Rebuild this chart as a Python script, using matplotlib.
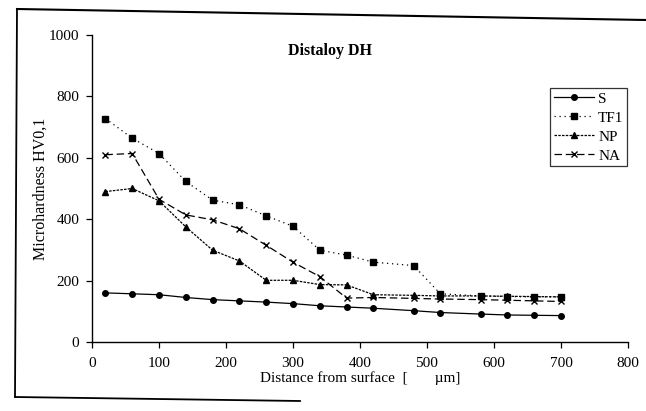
import matplotlib
matplotlib.use("Agg")
import matplotlib.pyplot as plt
from matplotlib.lines import Line2D

plt.rcParams['font.family'] = ['Liberation Serif', 'DejaVu Serif']

distance = [20, 60, 100, 140, 180, 220, 260, 300, 340, 380, 420, 480, 520, 580, 620, 660, 700]
S = [160, 157, 154, 145, 138, 134, 130, 125, 118, 114, 110, 102, 96, 91, 88, 87, 86]
TF1 = [728, 664, 614, 523, 462, 447, 411, 377, 299, 283, 260, 249, 157, 150, 148, 147, 147]
NP = [490, 500, 460, 375, 299, 264, 201, 201, 187, 186, 154, 152, 150, 150, 149, 148, 147]
NA = [610, 614, 465, 414, 398, 369, 315, 260, 213, 143, 145, 142, 140, 138, 136, 134, 132]

x_ticks = [0, 100, 200, 300, 400, 500, 600, 700, 800]
y_ticks = [0, 200, 400, 600, 800, 1000]

W, H = 646, 411
fig = plt.figure(figsize=(W / 100, H / 100), dpi=100)
ax = fig.add_axes([92 / W, 1 - 342 / H, (628 - 92) / W, (342 - 35) / H])

lw = 0.9
ax.plot(distance, S, color='black', lw=lw, ls='-', marker='o', ms=4, label='S')
ax.plot(distance, TF1, color='black', lw=lw, ls=(0, (1, 3)), marker='s', ms=5, label='TF1')
ax.plot(distance, NP, color='black', lw=lw, ls=(0, (2, 1)), marker='^', ms=5, label='NP')
ax.plot(distance, NA, color='black', lw=lw, ls=(0, (6, 3)), marker='x', ms=5, mew=1, label='NA')

ax.set_xlim(0, 800)
ax.set_ylim(0, 1000)
ax.set_xticks(x_ticks)
ax.set_yticks(y_ticks)
ax.spines['top'].set_visible(False)
ax.spines['right'].set_visible(False)
ax.tick_params(direction='out', length=4, width=0.9, labelsize=11, colors='black')
ax.tick_params(axis='x', pad=7)
ax.tick_params(axis='y', pad=5)
for s in ('left', 'bottom'):
    ax.spines[s].set_linewidth(1.0)

ax.set_xlabel('Distance from surface  [       \u00b5m]', fontsize=11, labelpad=1)
ax.set_ylabel('Microhardness HV0,1', fontsize=11.5, labelpad=0)
ax.text(330 / W, 1 - 51 / H, 'Distaloy DH', transform=fig.transFigure, ha='center', va='center',
        fontsize=11.5, fontweight='bold')

leg = ax.legend(loc='upper left', bbox_to_anchor=((550 - 92) / (628 - 92), (342 - 88) / (342 - 35)),
                frameon=True, fancybox=False, edgecolor='black', fontsize=11,
                handlelength=2.6, handletextpad=0.3, borderpad=0.25, labelspacing=0.35,
                borderaxespad=0)
leg.get_frame().set_linewidth(0.9)

# outer chart-area border (scanned frame)
fig.add_artist(Line2D([17 / W, 646 / W], [1 - 9 / H, 1 - 20 / H], transform=fig.transFigure,
                      color='black', lw=1.5))
fig.add_artist(Line2D([17 / W, 15 / W], [1 - 9 / H, 1 - 397 / H], transform=fig.transFigure,
                      color='black', lw=1.3))
fig.add_artist(Line2D([15 / W, 300 / W], [1 - 397 / H, 1 - 401 / H], transform=fig.transFigure,
                      color='black', lw=1.3))

fig.savefig('out.png', dpi=100)
